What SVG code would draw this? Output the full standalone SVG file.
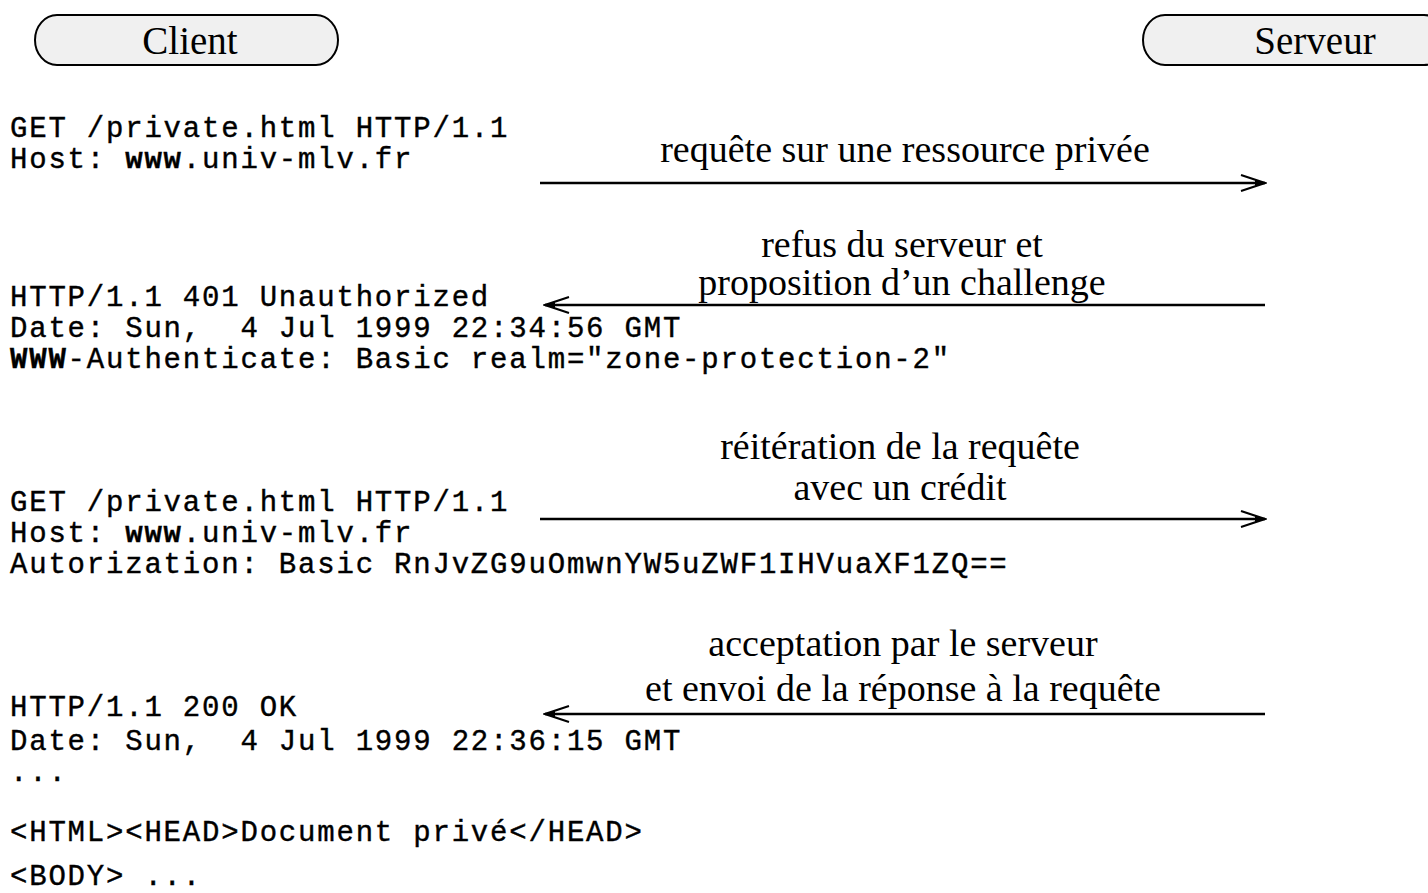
<svg xmlns="http://www.w3.org/2000/svg" width="1428" height="893" viewBox="0 0 1428 893">
  <style>
    .actor { fill: #f0f0f0; stroke: #000; stroke-width: 2; }
    .actor-label { font-family: "Liberation Serif", "DejaVu Serif", serif; font-size: 39px; fill: #000; text-anchor: middle; }
    .msg { font-family: "Liberation Mono", "DejaVu Sans Mono", monospace; font-size: 29px; letter-spacing: 1.8px; fill: #000; stroke: #000; stroke-width: 0.4px; }
    .msg .b { font-weight: bold; }
    .label { font-family: "Liberation Serif", "DejaVu Serif", serif; font-size: 38px; fill: #000; text-anchor: middle; }
    .flow { stroke: #000; stroke-width: 2.5; fill: none; marker-end: url(#head); }
  </style>
  <defs>
    <marker id="head" markerUnits="userSpaceOnUse" viewBox="-28 -10 30 20" refX="0" refY="0" markerWidth="30" markerHeight="20" orient="auto">
      <path d="M -24 -8 L 0 0 L -24 8" fill="none" stroke="#000" stroke-width="2"/>
      <path d="M -10 -3.5 L 1 0 L -10 3.5 Z" fill="#000"/>
    </marker>
  </defs>
  <rect width="1428" height="893" fill="#fff"/>

  <!-- participants -->
  <g id="client">
    <rect class="actor" x="35" y="15" width="303" height="50" rx="22" ry="25"/>
    <text class="actor-label" x="190" y="54">Client</text>
  </g>
  <g id="serveur">
    <rect class="actor" x="1143" y="15" width="303" height="50" rx="22" ry="25"/>
    <text class="actor-label" x="1315" y="54">Serveur</text>
  </g>

  <!-- exchanged HTTP messages -->
  <g id="request-1">
    <text class="msg" x="10" y="137">GET /private.html HTTP/1.1</text>
    <text class="msg" x="10" y="168">Host: <tspan class="b">www</tspan>.univ-mlv.fr</text>
  </g>
  <g id="response-401">
    <text class="msg" x="10" y="306">HTTP/1.1 401 Unauthorized</text>
    <text class="msg" x="10" y="337" xml:space="preserve">Date: Sun,  4 Jul 1999 22:34:56 GMT</text>
    <text class="msg" x="10" y="368"><tspan class="b">WWW</tspan>-Authenticate: Basic realm="zone-protection-2"</text>
  </g>
  <g id="request-2">
    <text class="msg" x="10" y="511">GET /private.html HTTP/1.1</text>
    <text class="msg" x="10" y="542">Host: <tspan class="b">www</tspan>.univ-mlv.fr</text>
    <text class="msg" x="10" y="573">Autorization: Basic RnJvZG9uOmwnYW5uZWF1IHVuaXF1ZQ==</text>
  </g>
  <g id="response-200">
    <text class="msg" x="10" y="716">HTTP/1.1 200 OK</text>
    <text class="msg" x="10" y="750" xml:space="preserve">Date: Sun,  4 Jul 1999 22:36:15 GMT</text>
    <text class="msg" x="10" y="781">...</text>
    <text class="msg" x="10" y="841">&lt;HTML&gt;&lt;HEAD&gt;Document privé&lt;/HEAD&gt;</text>
    <text class="msg" x="10" y="885">&lt;BODY&gt; ...</text>
  </g>

  <!-- arrows between client and server -->
  <g id="connectors">
    <line class="flow" x1="540" y1="183" x2="1265" y2="183"/>
    <line class="flow" x1="1265" y1="305" x2="545" y2="305"/>
    <line class="flow" x1="540" y1="519" x2="1265" y2="519"/>
    <line class="flow" x1="1265" y1="714" x2="545" y2="714"/>
  </g>

  <!-- arrow labels -->
  <g id="labels">
    <text class="label" x="905" y="162">requête sur une ressource privée</text>
    <text class="label" x="902" y="257">refus du serveur et</text>
    <text class="label" x="902" y="295">proposition d’un challenge</text>
    <text class="label" x="900" y="459">réitération de la requête</text>
    <text class="label" x="900" y="500">avec un crédit</text>
    <text class="label" x="903" y="656">acceptation par le serveur</text>
    <text class="label" x="903" y="701">et envoi de la réponse à la requête</text>
  </g>
</svg>
